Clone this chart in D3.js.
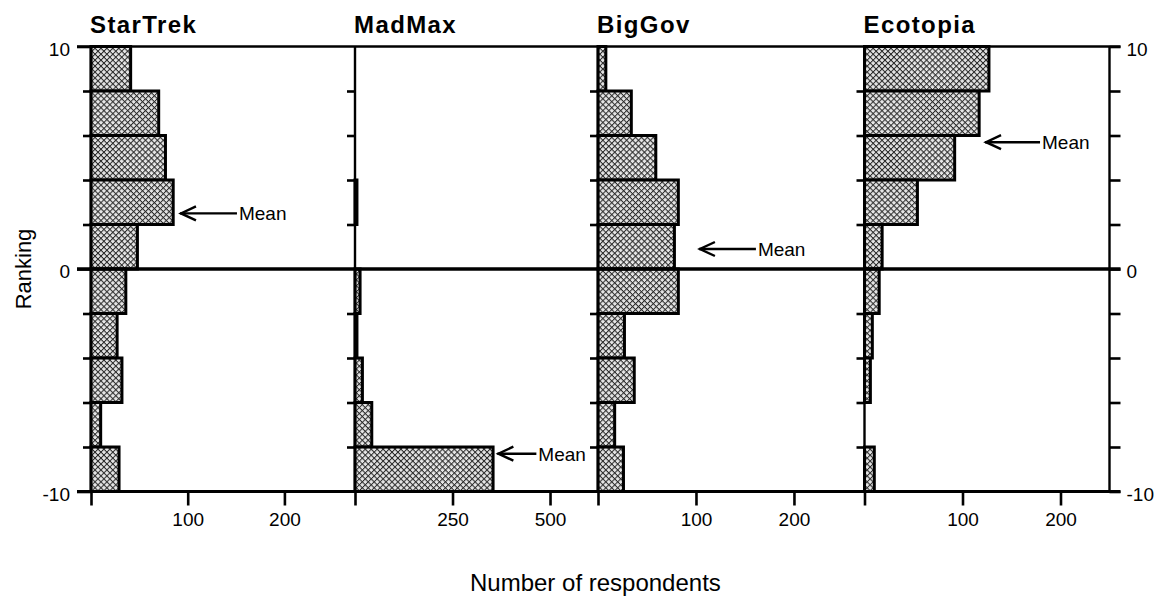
<!DOCTYPE html>
<html>
<head>
<meta charset="utf-8">
<script src="https://cdn.jsdelivr.net/npm/d3@7"></script>
<style>
  html, body { margin: 0; padding: 0; background: #fff; }
  svg { display: block; font-family: "Liberation Sans", Arial, Helvetica, sans-serif; }
</style>
</head>
<body>
<svg id="chart" width="1168" height="596"></svg>
<script>
// ---------- data ----------
const categories = ["StarTrek", "MadMax", "BigGov", "Ecotopia"];
const binTops = [10, 8, 6, 4, 2, 0, -2, -4, -6, -8];   // each bin spans [top-2, top]
const starTrek = [41, 70, 77, 85, 48, 36, 27, 32, 10, 29];
const madMax   = [0, 0, 0, 5, 0, 13, 5, 19, 43, 354];
const bigGov   = [8, 34, 59, 82, 78, 82, 27, 37, 17, 26];
const ecotopia = [127, 117, 92, 54, 18, 15, 8, 6, 0, 10];
const means      = [2.5, -8.3, 0.9, 5.7];
const meanArrowX = [92, 365, 103, 123];   // arrow tip, in respondents
const xTickValues = [[0, 100, 200], [0, 250, 500], [0, 100, 200], [0, 100, 200]];
const xDomainMax  = [273, 623, 272, 250];
const yTickValues = [10, 8, 6, 4, 2, 0, -2, -4, -6, -8, -10];
const yTickLabels = [10, 0, -10];
const xTitle = "Number of respondents";
const yTitle = "Ranking";
const meanLabel = "Mean";

const seriesValues = [starTrek, madMax, bigGov, ecotopia];

// ---------- layout ----------
const panelEdges = [91, 355, 598, 864.5, 1109.5];
const arrowLen = [57, 39, 57, 55];
const svg = d3.select("#chart");
const fmt = d => String(d);

const y = d3.scaleLinear().domain([-10, 10]).range([491.5, 46.5]);

// hatch pattern
const defs = svg.append("defs");
const pat = defs.append("pattern")
  .attr("id", "hatch").attr("patternUnits", "userSpaceOnUse")
  .attr("width", 4.2).attr("height", 4.2)
  .attr("patternTransform", "rotate(45)");
pat.append("rect").attr("width", 4.2).attr("height", 4.2).attr("fill", "#e6e6e6");
pat.append("path").attr("d", "M0,0.5H4.2M0.5,0V4.2").attr("stroke", "#2a2a2a").attr("stroke-width", 1);

const xScales = categories.map((c, i) =>
  d3.scaleLinear().domain([0, xDomainMax[i]]).range([panelEdges[i], panelEdges[i + 1]]));

categories.forEach((cat, i) => {
  const x = xScales[i];
  const g = svg.append("g");
  const rows = binTops.map((t, j) => ({ top: t, v: seriesValues[i][j] })).filter(d => d.v > 0);

  g.selectAll("rect.bar").data(rows).join("rect")
    .attr("class", "bar")
    .attr("x", x(0))
    .attr("y", d => y(d.top))
    .attr("width", d => x(d.v) - x(0))
    .attr("height", d => y(d.top - 2) - y(d.top))
    .attr("fill", "url(#hatch)")
    .attr("stroke", "#000")
    .attr("stroke-width", 3);

  // panel vertical line
  g.append("line")
    .attr("x1", x(0)).attr("x2", x(0))
    .attr("y1", y(10)).attr("y2", y(-10))
    .attr("stroke", "#000").attr("stroke-width", 2.4);

  // x axis
  const xa = d3.axisBottom(x).tickValues(xTickValues[i]).tickSize(14).tickPadding(7)
    .tickFormat(d => d === 0 ? "" : fmt(d));
  const xg = svg.append("g").attr("transform", `translate(0,${y(-10)})`).call(xa);
  xg.select(".domain").remove();
  xg.selectAll(".tick line").attr("stroke", "#000").attr("stroke-width", 2.6);
  xg.selectAll(".tick text").attr("font-size", 19).attr("fill", "#000")
    .attr("font-family", "Liberation Sans, Arial, sans-serif");

  // left ticks
  const ya = d3.axisLeft(y).tickValues(yTickValues.filter(v => !yTickLabels.includes(v)))
    .tickSize(8).tickFormat("");
  const yg = svg.append("g").attr("transform", `translate(${x(0)},0)`).call(ya);
  yg.select(".domain").remove();
  yg.selectAll(".tick line").attr("stroke", "#000").attr("stroke-width", 2.6);

  // title
  svg.append("text").attr("x", x(0) - 1).attr("y", 33)
    .attr("font-size", 24).attr("font-weight", "bold").attr("letter-spacing", 1.4)
    .text(cat);

  // mean arrow
  const ay = y(means[i]);
  const tip = x(meanArrowX[i]);
  const ag = svg.append("g").attr("stroke", "#000").attr("stroke-width", 2.4).attr("fill", "none");
  ag.append("line").attr("x1", tip).attr("x2", tip + arrowLen[i]).attr("y1", ay).attr("y2", ay);
  ag.append("path").attr("d", `M${tip + 16},${ay - 7}L${tip + 1},${ay}L${tip + 16},${ay + 7}`);
  svg.append("text").attr("x", tip + arrowLen[i] + 2).attr("y", ay).attr("dy", "0.36em")
    .attr("font-size", 19).text(meanLabel);
});

// right axis
const rightX = panelEdges[4];
svg.append("line").attr("x1", rightX).attr("x2", rightX).attr("y1", y(10)).attr("y2", y(-10))
  .attr("stroke", "#000").attr("stroke-width", 2.4);
const ra = d3.axisRight(y).tickValues(yTickValues).tickSize(11).tickPadding(6)
  .tickFormat(d => yTickLabels.includes(d) ? fmt(d) : "");
const rg = svg.append("g").attr("transform", `translate(${rightX},0)`).call(ra);
rg.select(".domain").remove();
rg.selectAll(".tick line").attr("stroke", "#000").attr("stroke-width", 2.6);
rg.selectAll(".tick text").attr("font-size", 19).attr("fill", "#000").attr("dy", "0.45em")
  .attr("font-family", "Liberation Sans, Arial, sans-serif");

// left labels
const la = d3.axisLeft(y).tickValues(yTickLabels).tickSize(14).tickPadding(7).tickFormat(fmt);
const lg = svg.append("g").attr("transform", `translate(${panelEdges[0]},0)`).call(la);
lg.select(".domain").remove();
lg.selectAll(".tick line").attr("stroke", "#000").attr("stroke-width", 2.6);
lg.selectAll(".tick text").attr("font-size", 19).attr("fill", "#000").attr("dy", "0.45em")
  .attr("font-family", "Liberation Sans, Arial, sans-serif");

// horizontal lines at 10, 0, -10
const hl = [{ v: 10, w: 2.6 }, { v: 0, w: 3.6 }, { v: -10, w: 3.2 }];
svg.selectAll("line.h").data(hl).join("line").attr("class", "h")
  .attr("x1", panelEdges[0] - 14).attr("x2", rightX + 11)
  .attr("y1", d => y(d.v)).attr("y2", d => y(d.v))
  .attr("stroke", "#000").attr("stroke-width", d => d.w);

// axis titles
svg.append("text").attr("x", 470).attr("y", 591).attr("font-size", 24).text(xTitle);
svg.append("text").attr("transform", `translate(31,${y(0)}) rotate(-90)`)
  .attr("text-anchor", "middle").attr("font-size", 22).text(yTitle);
</script>
</body>
</html>
